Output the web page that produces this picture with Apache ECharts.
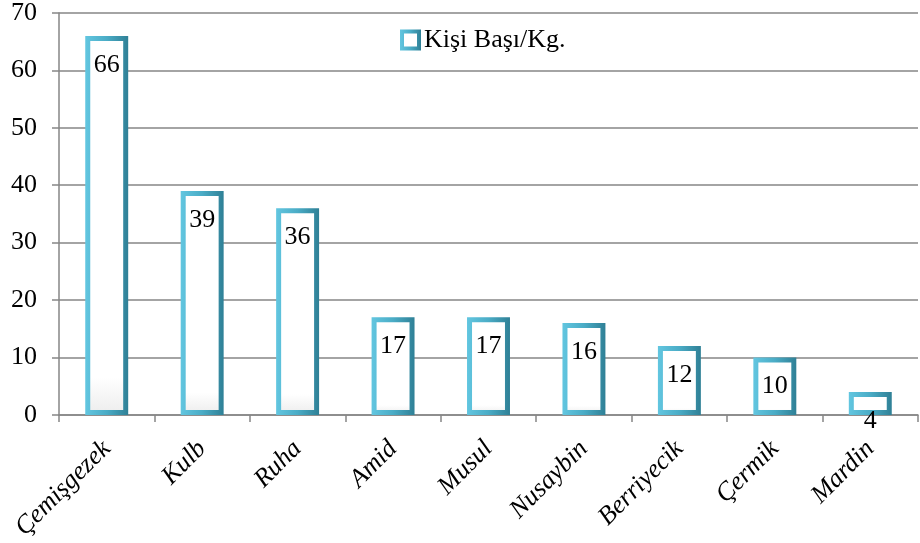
<!DOCTYPE html>
<html>
<head>
<meta charset="utf-8">
<script src="https://cdn.jsdelivr.net/npm/echarts@6/dist/echarts.min.js"></script>
<style>html,body{margin:0;padding:0;background:#fff}#c{width:920px;height:543px}</style>
</head>
<body>
<div id="c"></div>
<script>
var categories = ['Çemişgezek','Kulb','Ruha','Amid','Musul','Nusaybin','Berriyecik','Çermik','Mardin'];
var values = [66,39,36,17,17,16,12,10,4];
var seriesName = 'Kişi Başı/Kg.';
var yTicks = {min:0, max:70, interval:10};

var chart = echarts.init(document.getElementById('c'));
var font = '"Liberation Serif","Times New Roman",serif';
var teal = {type:'linear',x:0,y:0,x2:1,y2:0,colorStops:[{offset:0,color:'#62c6e0'},{offset:0.5,color:'#4aacc6'},{offset:1,color:'#2f8096'}]};
chart.setOption({
  animation:false,
  grid:{left:59,right:2,top:13,bottom:128,containLabel:false},
  legend:{
    data:[{name:seriesName,icon:'rect'}],
    left:395, top:22, itemWidth:17, itemHeight:17, itemGap:4,
    textStyle:{fontFamily:font,fontSize:26,color:'#000'},
    itemStyle:{color:'#ffffff',borderColor:teal,borderWidth:4}
  },
  xAxis:{
    type:'category', data:categories,
    axisLine:{lineStyle:{color:'#868686',width:1.5}},
    axisTick:{show:true,alignWithLabel:false,length:7,lineStyle:{color:'#868686',width:1.5}},
    axisLabel:{rotate:45,margin:30,fontFamily:font,fontStyle:'italic',fontSize:26,color:'#000',interval:0}
  },
  yAxis:{
    type:'value', min:yTicks.min, max:yTicks.max, interval:yTicks.interval,
    axisLine:{show:true,lineStyle:{color:'#868686',width:1.5}},
    axisTick:{show:true,length:7,lineStyle:{color:'#868686',width:1.5}},
    splitLine:{lineStyle:{color:'#868686',width:1.5}},
    axisLabel:{fontFamily:font,fontSize:26,color:'#000',margin:22}
  },
  series:[{
    name:seriesName, type:'bar', data:values, barWidth:'45%',
    itemStyle:{
      color:{type:'linear',x:0,y:0,x2:0,y2:1,colorStops:[{offset:0,color:'#ffffff'},{offset:0.9,color:'#ffffff'},{offset:1,color:'#ececec'}]},
      borderColor:teal,
      borderWidth:5
    },
    label:{show:true,position:'insideTop',distance:16,fontFamily:font,fontSize:26,color:'#000'}
  }]
});
</script>
</body>
</html>
